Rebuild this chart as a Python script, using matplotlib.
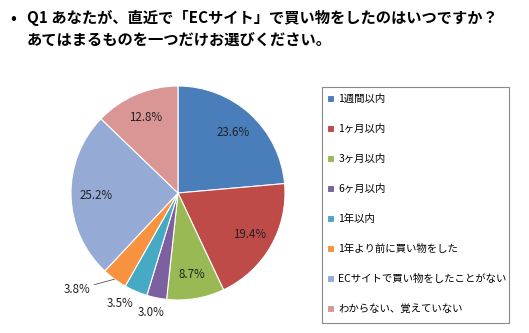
import matplotlib
matplotlib.use("Agg")
import matplotlib.pyplot as plt
from matplotlib.patches import Rectangle
import numpy as np

plt.rcParams['font.family'] = ['Noto Sans CJK JP', 'DejaVu Sans']

categories = ["1週間以内", "1ヶ月以内", "3ヶ月以内", "6ヶ月以内", "1年以内",
              "1年より前に買い物をした", "ECサイトで買い物をしたことがない", "わからない、覚えていない"]
values = [23.6, 19.4, 8.7, 3.0, 3.5, 3.8, 25.2, 12.8]
colors = ["#4A7EBB", "#BE4B48", "#98B954", "#7D60A0", "#46AAC5", "#F69240", "#95ABD5", "#D99694"]
title_lines = ["Q1 あなたが、直近で「ECサイト」で買い物をしたのはいつですか？",
               "あてはまるものを一つだけお選びください。"]

W, H = 529, 333
fig = plt.figure(figsize=(W / 100, H / 100), dpi=100)
fig.patch.set_facecolor("white")

cx, cy, r = 178, 193, 107
ax = fig.add_axes([(cx - r) / W, (H - cy - r) / H, 2 * r / W, 2 * r / H])
wedges, _ = ax.pie(values, colors=colors, startangle=90, counterclock=False,
                   wedgeprops=dict(edgecolor="white", linewidth=0.8))
ax.set_xlim(-1, 1)
ax.set_ylim(-1, 1)
ax.set_aspect("equal")
ax.axis("off")

fs = 8.3
outside = {3: (1.14, -1.0), 4: (1.17, -4.5), 5: (1.24, -7.0)}
for i, (w, v) in enumerate(zip(wedges, values)):
    mid = np.deg2rad((w.theta1 + w.theta2) / 2)
    txt = f"{v:.1f}%"
    if i in outside:
        d, off = outside[i]
        a = mid + np.deg2rad(off)
        x, y = d * np.cos(a), d * np.sin(a)
        if i == 5:
            ax.annotate(txt, xy=(1.0 * np.cos(mid), 1.0 * np.sin(mid)),
                        xytext=(x + 0.03, y), ha="right", va="center", fontsize=fs,
                        color="#222222",
                        arrowprops=dict(arrowstyle="-", color="#555555", lw=0.6,
                                        shrinkA=1, shrinkB=0))
        else:
            ax.text(x, y, txt, ha="center", va="center", fontsize=fs, color="#222222")
    else:
        d = 0.77
        ax.text(d * np.cos(mid), d * np.sin(mid), txt, ha="center", va="center",
                fontsize=fs, color="#222222")

fig.text(10 / W, 1 - 18 / H, "•", fontsize=11, fontweight="bold", ha="left", va="center")
fig.text(27 / W, 1 - 18 / H, title_lines[0], fontsize=11, fontweight="bold", ha="left", va="center")
fig.text(27 / W, 1 - 40 / H, title_lines[1], fontsize=11, fontweight="bold", ha="left", va="center")

# legend frame
fig.add_artist(Rectangle((322 / W, 1 - 323 / H), (509 - 322) / W, (323 - 87) / H,
                         transform=fig.transFigure, facecolor="white",
                         edgecolor="#888888", linewidth=0.8))
leg = fig.legend(wedges, categories, loc="center left",
                 bbox_to_anchor=(327 / W, 1 - 204 / H), bbox_transform=fig.transFigure,
                 fontsize=7.5, frameon=False, labelspacing=1.92,
                 handlelength=0.7, handleheight=0.7, handletextpad=0.4,
                 borderpad=0, borderaxespad=0)

fig.savefig("out.png", dpi=100, facecolor="white")
